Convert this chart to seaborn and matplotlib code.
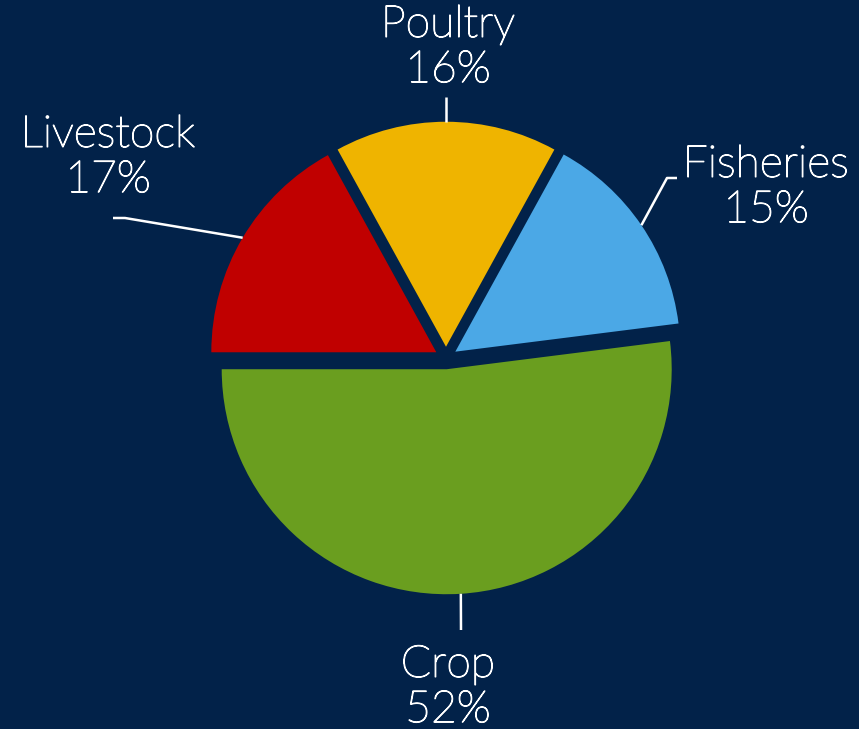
import numpy as np
import matplotlib
matplotlib.use("Agg")
import matplotlib.pyplot as plt
import matplotlib.patheffects as pe
import seaborn as sns

# data
sectors = ["Crop", "Fisheries", "Poultry", "Livestock"]
shares = [52, 15, 16, 17]
sector_colors = ["#6A9E1F", "#4BA8E6", "#EFB400", "#C00000"]

BG = "#022249"

sns.set_theme(style="white", rc={"figure.facecolor": BG, "axes.facecolor": BG})
plt.rcParams["font.family"] = ["Lato", "DejaVu Sans"]

W, H = 859, 729
CX, CY, R = 446, 358, 225  # pie centre / radius in pixels


def px(x, y):
    """pixel position -> data coords (pie radius = 1)"""
    return (x - CX) / R, (CY - y) / R


fig = plt.figure(figsize=(W / 100, H / 100), dpi=100)
ax = fig.add_axes([0, 0, 1, 1])

explode = [0.05] * len(shares)
wedges, _ = ax.pie(shares, colors=sns.color_palette(sector_colors), startangle=180,
                   counterclock=True, explode=explode,
                   wedgeprops=dict(linewidth=0))

ax.set_xlim(-CX / R, (W - CX) / R)
ax.set_ylim(-(H - CY) / R, CY / R)
ax.set_aspect("equal")
ax.axis("off")

# label layout: text block centre and leader elbow (pixels)
label_pos = {
    "Crop": ((448, 688), [(461, 630)]),
    "Fisheries": ((766, 188), [(667, 178), (677, 178)]),
    "Poultry": ((448, 48), [(446, 97)]),
    "Livestock": ((108, 158), [(125, 218), (113, 218)]),
}
thicken = [pe.withStroke(linewidth=0.9, foreground="white")]

for w, name, val in zip(wedges, sectors, shares):
    mid = np.deg2rad((w.theta1 + w.theta2) / 2)
    ox, oy = w.center
    start = (ox + np.cos(mid), oy + np.sin(mid))
    (tx, ty), elbow = label_pos[name]
    pts = [start] + [px(*p) for p in elbow]
    ax.plot([p[0] for p in pts], [p[1] for p in pts], color="white", lw=1.8,
            solid_capstyle="butt")
    ax.text(*px(tx, ty), f"{name}\n{val}%", ha="center", va="center",
            color="white", fontsize=32, fontweight="light", linespacing=1.2,
            path_effects=thicken)

fig.savefig("out.png", dpi=100, facecolor=BG)
